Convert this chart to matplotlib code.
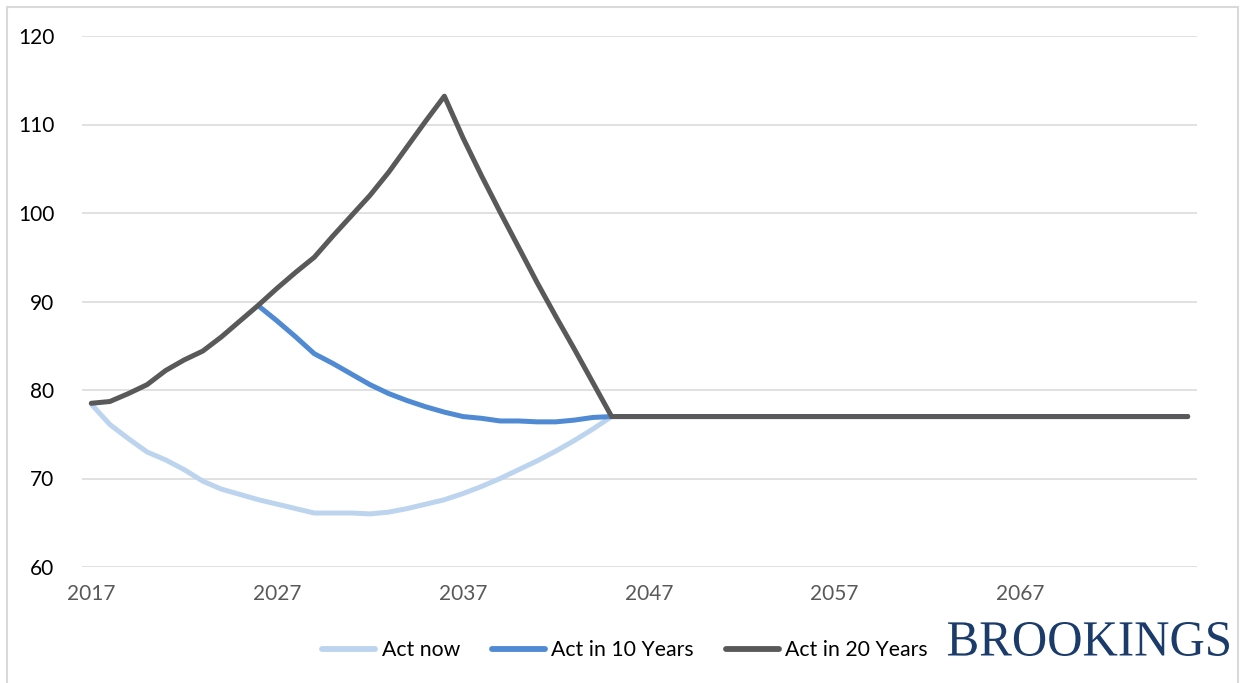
import matplotlib
matplotlib.use("Agg")
import matplotlib.pyplot as plt
from matplotlib.textpath import TextPath
from matplotlib.patches import PathPatch, Rectangle
from matplotlib.font_manager import FontProperties
from matplotlib.transforms import Affine2D

# Years shown on the horizontal axis
years = list(range(2017, 2077))
tick_years = [2017, 2027, 2037, 2047, 2057, 2067]
y_ticks = [60, 70, 80, 90, 100, 110, 120]

# Scenario paths; every scenario settles at the same long-run level
long_run = 77.0
act_now = [78.4, 76.1, 74.5, 73.0, 72.1, 71.0, 69.7, 68.8, 68.2, 67.6,
           67.1, 66.6, 66.1, 66.1, 66.1, 66.0, 66.2, 66.6, 67.1, 67.6,
           68.3, 69.1, 70.0, 71.0, 72.0, 73.1, 74.3, 75.6, 77.0]
act_in_10_start = 2026
act_in_10 = [89.5, 87.8, 86.0, 84.1, 83.0, 81.8, 80.6, 79.6, 78.8, 78.1,
             77.5, 77.0, 76.8, 76.5, 76.5, 76.4, 76.4, 76.6, 76.9, 77.0]
act_in_20 = [78.5, 78.7, 79.6, 80.6, 82.2, 83.4, 84.4, 86.0, 87.8, 89.6,
             91.5, 93.3, 95.0, 97.4, 99.7, 102.0, 104.6, 107.5, 110.4, 113.2,
             108.5, 104.2, 100.1, 96.1, 92.1, 88.3, 84.6, 80.8, 77.0]

labels = ["Act now", "Act in 10 Years", "Act in 20 Years"]
colors = ["#BDD4EE", "#4F8AD3", "#595959"]


def extend(start_year, values):
    xs = list(range(start_year, start_year + len(values)))
    tail = [y for y in years if y > xs[-1]]
    return xs + tail, list(values) + [long_run] * len(tail)


series = [extend(2017, act_now),
          extend(act_in_10_start, act_in_10),
          extend(2017, act_in_20)]

W, H = 1244, 683
fig = plt.figure(figsize=(W / 100, H / 100), dpi=100)
fig.patch.set_facecolor("white")

ax = fig.add_axes([82 / W, (H - 567) / H, (1197 - 82) / W, (567 - 36) / H])
font = "Lato"

for (xs, ys), lab, col in zip(series, labels, colors):
    ax.plot(xs, ys, color=col, lw=3.6, label=lab,
            solid_capstyle="round", solid_joinstyle="round", zorder=3)

ax.set_xlim(2016.5, 2076.5)
ax.set_ylim(60, 120)
ax.set_yticks(y_ticks)
ax.set_xticks(tick_years)
ax.set_xticklabels([str(t) for t in tick_years], color="#595959",
                   fontsize=15, family=font)
ax.set_yticklabels([str(t) for t in y_ticks], color="black",
                   fontsize=15, family=font)
ax.tick_params(axis="both", length=0)
ax.tick_params(axis="y", pad=20)
ax.tick_params(axis="x", pad=12)
ax.grid(axis="y", color="#D9D9D9", lw=1.1, zorder=0)
for s in ax.spines.values():
    s.set_visible(False)

leg = fig.legend(loc="center left", bbox_to_anchor=(322 / W, (H - 650) / H),
                 ncol=3, frameon=False, prop=FontProperties(family=font, size=15.3),
                 handlelength=2.5, handletextpad=0.3, columnspacing=1.5,
                 borderpad=0, borderaxespad=0)
for ln in leg.get_lines():
    ln.set_linewidth(4.2)
    ln.set_solid_capstyle("round")

# Brookings wordmark, fitted to its box in pixel units
tp = TextPath((0, 0), "BROOKINGS", size=1,
              prop=FontProperties(family="Liberation Serif"))
ext = tp.get_extents()
bx0, by0, bx1, by1 = 948, H - 656, 1229, H - 622
tr = (Affine2D().translate(-ext.x0, -ext.y0)
      .scale((bx1 - bx0) / ext.width, (by1 - by0) / ext.height)
      .translate(bx0, by0)
      .scale(1 / W, 1 / H)) + fig.transFigure
fig.add_artist(PathPatch(tp, transform=tr, facecolor="#1B3C6B", lw=0))

# Light frame around the chart area
fig.add_artist(Rectangle((7 / W, -0.05), (1238 - 7) / W, (H - 7) / H + 0.05,
                         transform=fig.transFigure, fill=False,
                         edgecolor="#D9D9D9", lw=1.5))

fig.savefig("out.png", dpi=100)
